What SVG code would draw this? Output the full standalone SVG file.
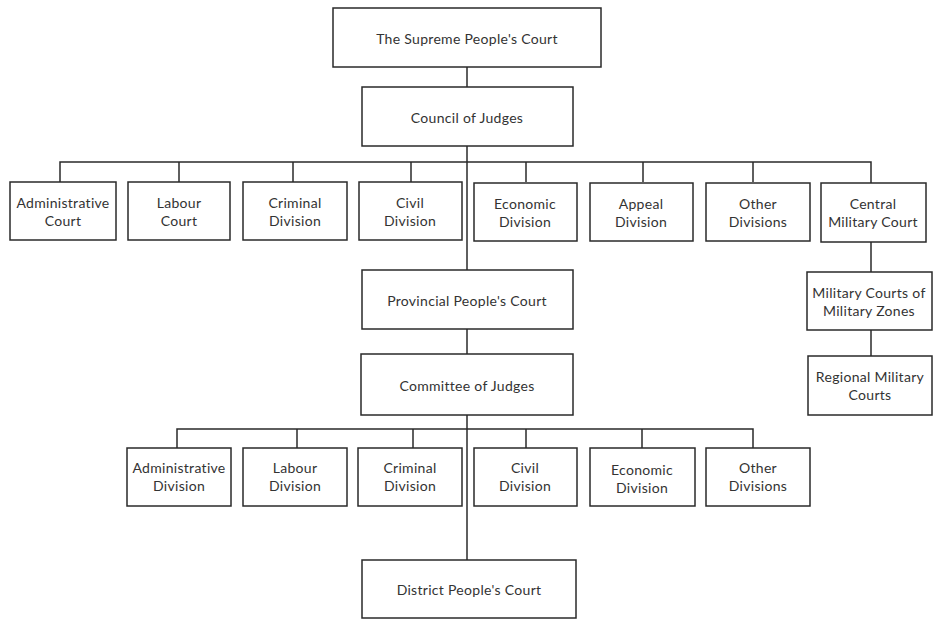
<svg xmlns="http://www.w3.org/2000/svg" width="934" height="619" viewBox="0 0 934 619">
<style>
rect{fill:#fff;stroke:#2a2a2a;stroke-width:1.5}
.c line,.c path{stroke:#2a2a2a;stroke-width:1.5;fill:none}
text{font-family:Lato,"Liberation Sans",sans-serif;font-size:14px;letter-spacing:0.3px;fill:#333;text-anchor:middle;dominant-baseline:central}
</style>
<rect x="0" y="0" width="934" height="619" style="stroke:none"/>
<g class="c" id="connectors">
<line x1="467" y1="67" x2="467" y2="87"/>
<line x1="467" y1="146" x2="467" y2="270"/>
<path d="M60 182V162H871V183"/>
<line x1="179" y1="162" x2="179" y2="182"/>
<line x1="293" y1="162" x2="293" y2="182"/>
<line x1="411" y1="162" x2="411" y2="182"/>
<line x1="526" y1="162" x2="526" y2="182"/>
<line x1="643" y1="162" x2="643" y2="182"/>
<line x1="753" y1="162" x2="753" y2="182"/>
<line x1="871" y1="242" x2="871" y2="272"/>
<line x1="871" y1="330" x2="871" y2="356"/>
<line x1="467" y1="329" x2="467" y2="354"/>
<line x1="467" y1="415" x2="467" y2="560"/>
<path d="M177 448V429H753V448"/>
<line x1="297" y1="429" x2="297" y2="448"/>
<line x1="413" y1="429" x2="413" y2="448"/>
<line x1="526" y1="429" x2="526" y2="448"/>
<line x1="642" y1="429" x2="642" y2="448"/>
</g>
<g id="supreme"><rect x="333" y="8" width="268" height="59"/><text x="467" y="38">The Supreme People's Court</text></g>
<g id="council"><rect x="362" y="87" width="211" height="59"/><text x="467" y="117">Council of Judges</text></g>
<g id="admin-court"><rect x="10" y="182" width="106" height="58"/><text x="63" y="202">Administrative</text><text x="63" y="220">Court</text></g>
<g id="labour-court"><rect x="128" y="182" width="102" height="58"/><text x="179" y="202">Labour</text><text x="179" y="220">Court</text></g>
<g id="criminal-div1"><rect x="243" y="182" width="104" height="58"/><text x="295" y="202">Criminal</text><text x="295" y="220">Division</text></g>
<g id="civil-div1"><rect x="359" y="182" width="103" height="58"/><text x="410" y="202">Civil</text><text x="410" y="220">Division</text></g>
<g id="economic-div1"><rect x="474" y="183" width="103" height="58"/><text x="525" y="203">Economic</text><text x="525" y="221">Division</text></g>
<g id="appeal-div"><rect x="590" y="183" width="103" height="58"/><text x="641" y="203">Appeal</text><text x="641" y="221">Division</text></g>
<g id="other-div1"><rect x="706" y="183" width="104" height="58"/><text x="758" y="203">Other</text><text x="758" y="221">Divisions</text></g>
<g id="central-military"><rect x="821" y="183" width="105" height="59"/><text x="873" y="203">Central</text><text x="873" y="221">Military Court</text></g>
<g id="military-zones"><rect x="807" y="272" width="125" height="58"/><text x="869" y="292">Military Courts of</text><text x="869" y="310">Military Zones</text></g>
<g id="regional-military"><rect x="808" y="356" width="124" height="59"/><text x="870" y="376">Regional Military</text><text x="870" y="394">Courts</text></g>
<g id="provincial"><rect x="362" y="270" width="211" height="59"/><text x="467" y="300">Provincial People's Court</text></g>
<g id="committee"><rect x="361" y="354" width="212" height="61"/><text x="467" y="385">Committee of Judges</text></g>
<g id="admin-div"><rect x="127" y="448" width="104" height="58"/><text x="179" y="467">Administrative</text><text x="179" y="485">Division</text></g>
<g id="labour-div"><rect x="243" y="448" width="104" height="58"/><text x="295" y="467">Labour</text><text x="295" y="485">Division</text></g>
<g id="criminal-div2"><rect x="358" y="448" width="104" height="58"/><text x="410" y="467">Criminal</text><text x="410" y="485">Division</text></g>
<g id="civil-div2"><rect x="474" y="448" width="103" height="58"/><text x="525" y="467">Civil</text><text x="525" y="485">Division</text></g>
<g id="economic-div2"><rect x="590" y="448" width="105" height="58"/><text x="642" y="469">Economic</text><text x="642" y="487">Division</text></g>
<g id="other-div2"><rect x="706" y="448" width="104" height="58"/><text x="758" y="467">Other</text><text x="758" y="485">Divisions</text></g>
<g id="district"><rect x="362" y="560" width="214" height="58"/><text x="469" y="589">District People's Court</text></g>
</svg>
